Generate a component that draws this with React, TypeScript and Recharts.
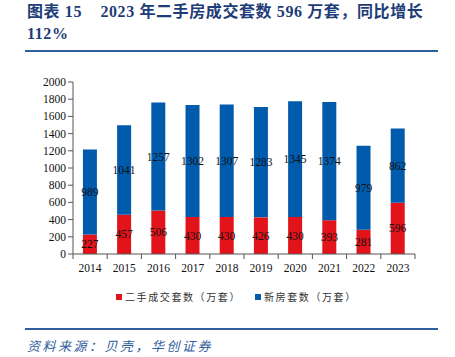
import { Bar, BarChart, LabelList, XAxis, YAxis } from 'recharts'

const years = ['2014', '2015', '2016', '2017', '2018', '2019', '2020', '2021', '2022', '2023']
const resale = [227, 457, 506, 430, 430, 426, 430, 393, 281, 596]
const newHomes = [989, 1041, 1257, 1302, 1307, 1283, 1345, 1374, 979, 862]
const yTicks = [0, 200, 400, 600, 800, 1000, 1200, 1400, 1600, 1800, 2000]
const seriesNames = ['二手成交套数（万套）', '新房套数（万套）']
const seriesColors = ['#E3131B', '#005BAC']

const rows = years.map((year, i) => ({ year, resale: resale[i], newHomes: newHomes[i] }))

const serif = '"Liberation Serif", "Times New Roman", "Noto Sans CJK SC", serif'
const navy = '#1E3C78'
const band = 34.2

function YearTick(props: any) {
  const { x, y, payload, index } = props
  const last = index === years.length - 1
  return (
    <g>
      <line x1={x - band / 2} x2={x - band / 2} y1={y - 8} y2={y - 3} stroke="#555" />
      {last && <line x1={x + band / 2} x2={x + band / 2} y1={y - 8} y2={y - 3} stroke="#555" />}
      <text x={x} y={y + 10} textAnchor="middle" fontFamily={serif} fontSize={11.5} fill="#111">{payload.value}</text>
    </g>
  )
}

export default function App() {
  return (
    <div style={{ position: 'absolute', left: 0, top: 0, width: 455, height: 357, background: '#fff', fontFamily: serif }}>
      <div style={{ position: 'absolute', left: 27, top: 1, width: 425, color: navy, fontWeight: 'bold', fontSize: 16, lineHeight: '22px', letterSpacing: 0.6 }}>
        图表 15&nbsp;&nbsp;&nbsp;&nbsp;2023 年二手房成交套数 596 万套，同比增长<br />112%
      </div>
      <div style={{ position: 'absolute', left: 25, top: 50, width: 413, height: 2, background: '#2F5E9C' }} />

      <div style={{ position: 'absolute', left: 0, top: 0 }}>
        <BarChart width={455} height={320} data={rows} margin={{ top: 82, right: 40, left: 33, bottom: 36 }} barCategoryGap="29%">
          <XAxis dataKey="year" tickLine={false} axisLine={{ stroke: '#555' }} height={30} interval={0} tick={<YearTick />} />
          <YAxis domain={[0, 2000]} ticks={yTicks} width={40} tickSize={5} axisLine={{ stroke: '#555' }} tickLine={{ stroke: '#555' }} tick={{ fontFamily: serif, fontSize: 11.5, fill: '#111' }} interval={0} />
          <Bar dataKey="resale" name={seriesNames[0]} stackId="a" fill={seriesColors[0]} isAnimationActive={false}>
            <LabelList dataKey="resale" position="center" fill="#111" fontFamily={serif} fontSize={11.5} />
          </Bar>
          <Bar dataKey="newHomes" name={seriesNames[1]} stackId="a" fill={seriesColors[1]} isAnimationActive={false}>
            <LabelList dataKey="newHomes" position="center" fill="#111" fontFamily={serif} fontSize={11.5} />
          </Bar>
        </BarChart>
      </div>

      {seriesNames.map((name, i) => (
        <div key={name} style={{ position: 'absolute', left: i === 0 ? 116 : 255, top: 289, display: 'flex', alignItems: 'center', fontSize: 10, color: '#333', fontFamily: '"Noto Sans CJK SC", sans-serif' }}>
          <span style={{ width: 6, height: 6, background: seriesColors[i], marginRight: 3, display: 'inline-block' }} />
          <span style={{ letterSpacing: 1.6 }}>{name}</span>
        </div>
      ))}

      <div style={{ position: 'absolute', left: 25, top: 328, width: 413, height: 2, background: '#2F5E9C' }} />
      <div style={{ position: 'absolute', left: 27, top: 336, fontSize: 13, letterSpacing: 2.5, color: '#2F5E9C', fontStyle: 'italic', fontFamily: '"Noto Sans CJK SC", sans-serif' }}>
        资料来源：贝壳，华创证券
      </div>
    </div>
  )
}
